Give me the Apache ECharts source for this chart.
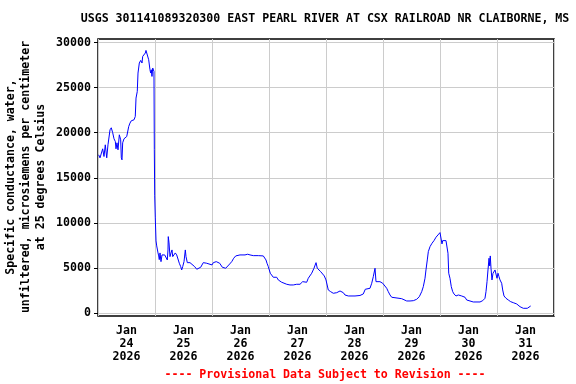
<!DOCTYPE html>
<html><head><meta charset="utf-8">
<script src="https://cdn.jsdelivr.net/npm/echarts@6/dist/echarts.min.js"></script>
<style>html,body{margin:0;padding:0;background:#fff}#c{width:576px;height:384px}</style>
</head><body><div id="c"></div>
<script>
const titleText = "USGS 301141089320300 EAST PEARL RIVER AT CSX RAILROAD NR CLAIBORNE, MS";
const yAxisTitle = "Specific conductance, water,\nunfiltered, microsiemens per centimeter\nat 25 degrees Celsius";
const footerText = "---- Provisional Data Subject to Revision ----";
const dayLabels = ["24", "25", "26", "27", "28", "29", "30", "31"];
const yTicks = [0, 5000, 10000, 15000, 20000, 25000, 30000];
// days since 2026-01-24 00:00
const days = [0.012,0.035,0.082,0.105,0.128,0.153,0.175,0.198,0.211,0.233,0.258,0.281,0.304,0.316,0.333,0.351,0.374,0.398,0.409,0.421,0.433,0.456,0.479,0.504,0.526,0.539,0.561,0.584,0.609,0.632,0.654,0.667,0.689,0.702,0.725,0.749,0.772,0.784,0.807,0.830,0.842,0.865,0.877,0.889,0.912,0.924,0.935,0.947,0.960,0.970,0.982,0.988,0.995,1.005,1.018,1.030,1.040,1.053,1.065,1.075,1.088,1.105,1.123,1.146,1.170,1.193,1.216,1.228,1.233,1.246,1.263,1.281,1.298,1.311,1.333,1.356,1.381,1.404,1.426,1.451,1.468,1.486,1.509,1.532,1.544,1.567,1.614,1.637,1.696,1.732,1.767,1.802,1.825,1.847,1.872,1.907,1.942,2.000,2.023,2.075,2.135,2.158,2.181,2.205,2.240,2.275,2.311,2.346,2.381,2.416,2.439,2.491,2.579,2.626,2.667,2.725,2.812,2.900,2.930,2.947,2.965,2.988,3.005,3.023,3.047,3.075,3.135,3.163,3.193,3.223,3.258,3.311,3.368,3.426,3.486,3.544,3.591,3.661,3.689,3.707,3.749,3.789,3.825,3.847,3.877,3.907,3.942,3.970,4.000,4.023,4.040,4.082,4.128,4.188,4.246,4.275,4.304,4.333,4.391,4.509,4.596,4.654,4.689,4.772,4.802,4.830,4.860,4.877,4.912,4.947,4.995,5.030,5.065,5.093,5.123,5.153,5.181,5.328,5.356,5.416,5.474,5.532,5.591,5.637,5.679,5.707,5.737,5.754,5.777,5.795,5.825,5.860,5.895,5.930,5.965,6.000,6.018,6.035,6.047,6.070,6.105,6.128,6.140,6.153,6.175,6.198,6.223,6.246,6.281,6.321,6.381,6.439,6.468,6.496,6.584,6.702,6.749,6.789,6.807,6.825,6.842,6.860,6.872,6.882,6.895,6.912,6.930,6.947,6.965,6.982,7.000,7.018,7.035,7.053,7.082,7.100,7.123,7.158,7.198,7.240,7.286,7.346,7.374,7.404,7.461,7.532,7.567,7.591];
const values = [17550,17210,18215,17358,18659,17214,18659,18470,20327,20550,19994,19327,19026,18215,18882,18103,19771,19215,17214,16991,18882,19327,19438,19582,19771,20694,21072,21328,21106,21439,21806,23852,24586,26632,27744,28034,27744,28478,28667,28856,29146,29223,29034,28111,26999,26632,26999,26254,27188,27366,26810,18103,12988,10542,7984,7428,7206,6650,6316,5905,6650,5682,6427,6316,6427,6238,5871,6983,8462,7762,6238,6650,6983,6238,6238,6650,6427,6238,5504,5126,4759,5126,5682,6983,6238,5571,5571,5427,5126,4837,4759,5060,5060,5571,5427,5504,5427,5315,5571,5682,5504,5315,5060,4948,4948,5126,5427,5682,6060,6316,6427,6427,6427,6505,6427,6349,6349,6316,6172,5871,5504,5126,4759,4392,4203,3948,3948,3647,3458,3392,3280,3169,3091,3091,3169,3169,3458,3392,3836,3836,4392,4948,5571,4948,4837,4570,4459,4092,3647,3458,2535,2346,2168,2235,2424,2458,2235,1979,1868,1868,1924,2091,2613,2724,3280,4014,4948,3458,3425,3458,3280,3091,2724,2346,1979,1724,1568,1568,1423,1312,1312,1346,1501,1790,2346,2902,3836,4759,5871,6794,7350,7728,8018,8396,8651,8907,9018,7651,8018,7873,8018,8018,6616,4392,3836,2902,2346,2091,1868,1979,1868,1724,1423,1234,1201,1201,1346,1612,2346,3458,4759,6060,5204,6316,4948,3647,4392,4203,4759,4948,3836,4392,4014,3647,3280,2535,1868,1612,1423,1234,1123,979,979,678,500,500,612,756];

const FONT = '"DejaVu Sans Mono", monospace';
const chart = echarts.init(document.getElementById('c'), null, {renderer: 'canvas'});
const data = days.map((d, i) => [d, values[i]]);
chart.setOption({
  animation: false,
  backgroundColor: '#fff',
  graphic: [{
    type: 'text', x: 325, y: 19,
    style: {text: titleText, fill: '#000', font: 'bold 11.6px ' + FONT, textAlign: 'center', textVerticalAlign: 'middle'}
  }, {
    type: 'text', x: 325, y: 375,
    style: {text: footerText, fill: '#ff0000', font: 'bold 11.6px ' + FONT, textAlign: 'center', textVerticalAlign: 'middle'}
  }, {
    type: 'text', x: 26, y: 177, rotation: Math.PI / 2,
    style: {text: yAxisTitle, fill: '#000', font: 'bold 11.6px ' + FONT, lineHeight: 15, textAlign: 'center', textVerticalAlign: 'middle'}
  }],
  grid: {left: 98, right: 22, top: 39, bottom: 68, containLabel: false, outerBoundsMode: 'none',
    show: true, borderColor: '#000', borderWidth: 1.5, backgroundColor: 'transparent'},
  xAxis: {
    type: 'value', min: 0, max: 8, interval: 1,
    axisLine: {show: false},
    axisTick: {show: false},
    splitLine: {show: true, lineStyle: {color: '#cccccc', width: 1}},
    axisLabel: {
      customValues: dayLabels.map((_, i) => i + 0.5),
      formatter: v => 'Jan\n' + dayLabels[Math.floor(v)] + '\n2026',
      fontFamily: FONT, fontSize: 11.6, fontWeight: 'bold', color: '#000', lineHeight: 13, margin: 8
    }
  },
  yAxis: {
    type: 'value', min: -356, max: 30413,
    axisLine: {show: false},
    axisTick: {show: true, customValues: yTicks, length: 4, lineStyle: {color: '#000'}},
    splitLine: {show: true, lineStyle: {color: '#cccccc', width: 1}},
    axisLabel: {customValues: yTicks, formatter: v => String(v), fontFamily: FONT, fontSize: 11.6, fontWeight: 'bold', color: '#000', margin: 7}
  },
  series: [{
    type: 'line', data: data, showSymbol: false, symbol: 'none',
    lineStyle: {color: '#0000ff', width: 1}, clip: true
  }]
});
</script></body></html>
